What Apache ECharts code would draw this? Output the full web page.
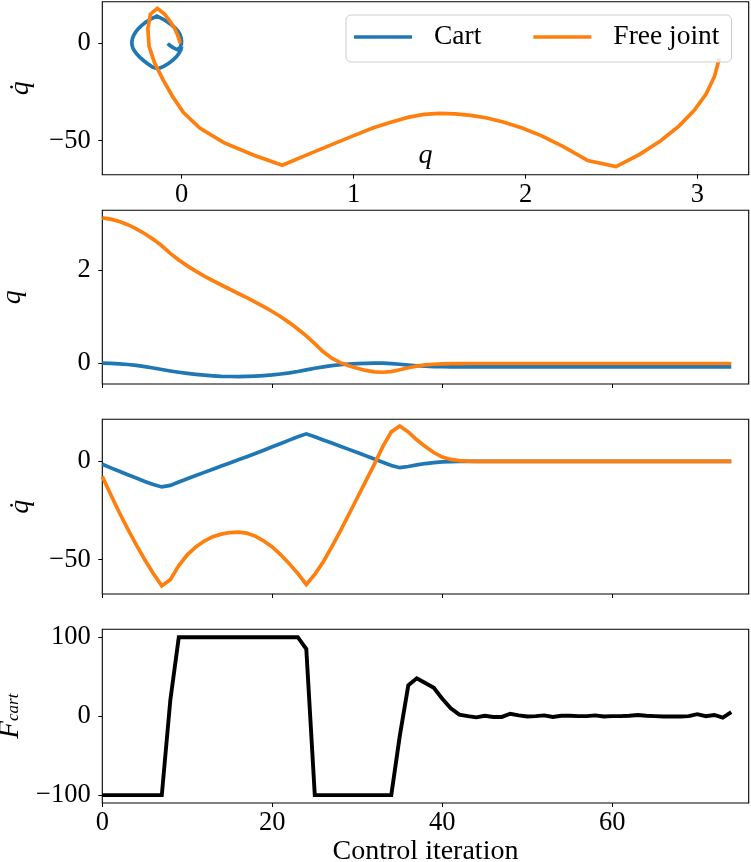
<!DOCTYPE html>
<html><head><meta charset="utf-8">
<script src="https://cdn.jsdelivr.net/npm/echarts@6/dist/echarts.min.js"></script>
<style>html,body{margin:0;padding:0;background:#fff}#c{width:751px;height:862px}</style>
</head><body><div id="c"></div>
<script>
// ---- data (one value per control iteration 0..74) ----
const cartQ = [0.0,-0.005,-0.015,-0.03,-0.05,-0.075,-0.105,-0.138,-0.17,-0.198,
  -0.222,-0.243,-0.26,-0.274,-0.284,-0.289,-0.29,-0.287,-0.28,-0.269,
  -0.254,-0.234,-0.21,-0.18,-0.145,-0.11,-0.081,-0.056,-0.036,-0.02,
  -0.01,-0.004,-0.001,-0.002,-0.01,-0.025,-0.042,-0.057,-0.068,-0.075,
  -0.078,-0.08,-0.081,-0.081,-0.081,-0.081,-0.081,-0.081,-0.081,-0.081,
  -0.081,-0.081,-0.081,-0.081,-0.081,-0.081,-0.081,-0.081,-0.081,-0.081,
  -0.081,-0.081,-0.081,-0.081,-0.081,-0.081,-0.081,-0.081,-0.081,-0.081,
  -0.081,-0.081,-0.081,-0.081,-0.081];
const jointQ = [3.127,3.099,3.05,2.98,2.892,2.786,2.664,2.526,2.362,2.22,
  2.094,1.98,1.875,1.776,1.682,1.59,1.499,1.408,1.315,1.216,
  1.111,0.997,0.872,0.735,0.585,0.42,0.245,0.105,0.01,-0.055,
  -0.11,-0.158,-0.19,-0.197,-0.182,-0.142,-0.1,-0.065,-0.04,-0.025,
  -0.016,-0.012,-0.01,-0.009,-0.009,-0.009,-0.009,-0.009,-0.009,-0.009,
  -0.009,-0.009,-0.009,-0.009,-0.009,-0.009,-0.009,-0.009,-0.009,-0.009,
  -0.009,-0.009,-0.009,-0.009,-0.009,-0.009,-0.009,-0.009,-0.009,-0.009,
  -0.009,-0.009,-0.009,-0.009,-0.009];
const cartQd = [-1.5,-3.3,-5,-6.8,-8.5,-10.2,-11.8,-13,-12.2,-10.5,
  -8.8,-7.2,-5.6,-4,-2.4,-0.8,0.8,2.4,4,5.7,
  7.4,9.1,10.8,12.5,14,12.5,10.9,9.3,7.7,6.1,
  4.5,2.9,1.2,-0.4,-2.1,-3.2,-2.6,-1.8,-1.1,-0.6,
  -0.3,-0.12,-0.05,0,0,0,0,0,0,0,
  0,0,0,0,0,0,0,0,0,0,
  0,0,0,0,0,0,0,0,0,0,
  0,0,0,0,0];
const jointQd = [-7.7,-17,-26,-34.5,-42.5,-50,-57,-63.3,-60.2,-53,
  -47.5,-43.5,-40.5,-38.3,-37,-36.2,-36,-36.5,-38,-40.5,
  -43.5,-47.5,-52,-57,-62.6,-57.5,-51,-43.5,-35.5,-27,
  -18.5,-10,-1.5,7.5,15,18,15,11,7.5,4.5,
  2.2,1,0.4,0.1,0,0,0,0,0,0,
  0,0,0,0,0,0,0,0,0,0,
  0,0,0,0,0,0,0,0,0,0,
  0,0,0,0,0];
const forceCart = [-100,-100,-100,-100,-100,-100,-100,-100,20,100,
  100,100,100,100,100,100,100,100,100,100,
  100,100,100,100,85,-100,-100,-100,-100,-100,
  -100,-100,-100,-100,-100,-25,39,48,42,36,
  22,10,2,0,-1.5,0.5,-1,-1,3,1,
  -0.5,0,1,-1,0.5,0.5,0,0,1,-0.5,
  0,0,0.5,1.5,0.5,0,-0.5,-0.5,-0.5,0,
  2.5,0,1.5,-2,5];
const iterations = cartQ.map((_, i) => i);
const seriesNames = ['Cart', 'Free joint'];
const phaseQTicks = [0, 1, 2, 3];
const phaseQdTicks = [-50, 0];
const qTicks = [0, 2];
const qdTicks = [-50, 0];
const fTicks = [-100, 0, 100];
const iterTicks = [0, 20, 40, 60];

// ---- styling ----
const FONT = 'Liberation Serif';
const BLUE = '#1f77b4', ORANGE = '#ff7f0e';
const LW = 3.7;
const minus = v => String(v).replace('-', '\u2212');
const L = 102.3, W = 646.4;

function axis(gridIndex, min, max, ticks, showLabels, margin, extra) {
  return Object.assign({
    type: 'value', gridIndex, min, max,
    splitLine: { show: false },
    axisLine: { show: false, onZero: false },
    axisTick: { show: true, inside: false, length: 4, customValues: ticks,
      lineStyle: { color: '#000', width: 1 } },
    axisLabel: { show: showLabels, customValues: ticks, margin,
      fontFamily: FONT, fontSize: 26.5, color: '#000', formatter: minus }
  }, extra || {});
}
const nameStyle = { fontFamily: FONT, fontSize: 28, color: '#000' };
const italicName = Object.assign({}, nameStyle, { fontStyle: 'italic' });

const pair = (xs, ys) => xs.map((x, i) => [x, ys[i]]);
function line(name, color, xi, data, w) {
  return { type: 'line', name, xAxisIndex: xi, yAxisIndex: xi, data,
    showSymbol: false, symbol: 'none', color,
    lineStyle: { color, width: w || LW, cap: 'butt', join: 'miter' }, animation: false };
}

const option = {
  animation: false,
  backgroundColor: '#fff',
  grid: [
    { left: L, top: 1.7, width: W, height: 173 },
    { left: L, top: 210.3, width: W, height: 173.7 },
    { left: L, top: 419.3, width: W, height: 174.7 },
    { left: L, top: 629.3, width: W, height: 173.7 }
  ].map(g => Object.assign(g, { show: true, containLabel: false, outerBoundsMode: 'none',
    borderColor: '#000', borderWidth: 1.1, backgroundColor: 'transparent' })),
  legend: {
    data: seriesNames, left: 346, top: 15,
    padding: [8, 12, 11, 8], itemGap: 52,
    icon: 'rect', itemWidth: 58, itemHeight: 3.7,
    backgroundColor: 'rgba(255,255,255,0.8)', borderColor: '#cccccc', borderWidth: 1, borderRadius: 5,
    textStyle: { fontFamily: FONT, fontSize: 27.5, color: '#000', padding: [0, 0, 0, 17] }
  },
  xAxis: [
    axis(0, -0.462, 3.298, phaseQTicks, true, 7, { name: 'q', nameLocation: 'middle', nameGap: -33, nameTextStyle: italicName }),
    axis(1, 0, 76.05, iterTicks, false, 7),
    axis(2, 0, 76.05, iterTicks, false, 7),
    axis(3, 0, 76.05, iterTicks, true, 7, { name: 'Control iteration', nameLocation: 'middle', nameGap: 33, nameTextStyle: nameStyle })
  ],
  yAxis: [
    axis(0, -67.45, 21.4, phaseQdTicks, true, 11.5, { name: 'q\u0307', nameLocation: 'middle', nameGap: 68, nameTextStyle: italicName }),
    axis(1, -0.45, 3.29, qTicks, true, 11.5, { name: 'q', nameLocation: 'middle', nameGap: 76, nameTextStyle: italicName }),
    axis(2, -67.45, 21.4, qdTicks, true, 11.5, { name: 'q\u0307', nameLocation: 'middle', nameGap: 68, nameTextStyle: italicName }),
    axis(3, -110, 110, fTicks, true, 11.5, { name: '{f|F}{s|cart}', nameLocation: 'middle', nameGap: 72,
      nameTextStyle: { color: '#000', rich: {
        f: { fontFamily: FONT, fontSize: 29, fontStyle: 'italic', lineHeight: 30 },
        s: { fontFamily: FONT, fontSize: 17, fontStyle: 'italic', lineHeight: 30, padding: [5, 0, 0, 0] }
      } } })
  ],
  series: [
    line(seriesNames[0], BLUE, 0, pair(cartQ, cartQd)),
    line(seriesNames[1], ORANGE, 0, pair(jointQ, jointQd)),
    line(seriesNames[0], BLUE, 1, pair(iterations, cartQ)),
    line(seriesNames[1], ORANGE, 1, pair(iterations, jointQ)),
    line(seriesNames[0], BLUE, 2, pair(iterations, cartQd)),
    line(seriesNames[1], ORANGE, 2, pair(iterations, jointQd)),
    line('Force', '#000', 3, pair(iterations, forceCart), 3.9)
  ]
};
const chart = echarts.init(document.getElementById('c'), null, { renderer: 'canvas' });
chart.setOption(option);
</script>
</body></html>
